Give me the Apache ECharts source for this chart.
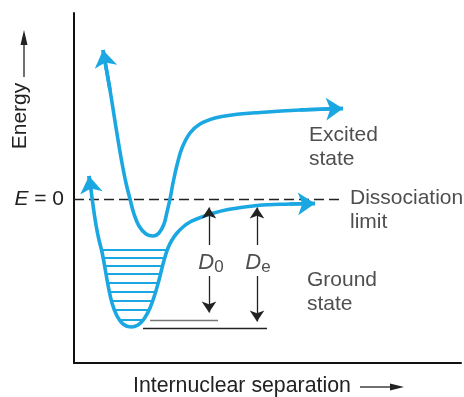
<!DOCTYPE html>
<html>
<head>
<meta charset="utf-8">
<script src="https://cdn.jsdelivr.net/npm/echarts@6/dist/echarts.min.js"></script>
<style>
html, body { margin: 0; padding: 0; background: #fff; }
#main { width: 464px; height: 397px; }
</style>
</head>
<body>
<div id="main"></div>
<script>
// x = internuclear separation, y = energy (E = 0 at the dissociation limit), arbitrary units
var groundX = [15, 17, 19, 22, 25, 28, 31, 34, 38, 43, 49, 57, 64, 70, 76, 81, 85, 88, 91, 94, 98, 103, 109, 116, 124, 135, 154, 183, 216, 241];
var groundY = [23, 9, -6, -26, -41, -53, -69, -86, -104, -117, -125, -128, -126, -120, -109, -95, -81, -69, -58, -49, -41, -34, -28, -23, -19.5, -15.5, -10.5, -6.5, -5, -4.5];

var excitedX = [29, 36, 40, 44, 48, 52, 56, 60, 65, 72, 79, 85, 90, 93, 96, 99, 103, 108, 116, 126, 141, 158, 186, 226, 269];
var excitedY = [149, 109, 84, 59, 36, 16, 0, -15, -27, -35, -37, -34, -25, -13, 0, 16, 34, 51, 66, 75, 81, 84, 86.5, 89, 90.5];

// vibrational levels of the ground state
var levelE = [-50.3, -58.3, -66.7, -75, -83.7, -92.7, -101.7, -111, -121];
var levelLeft = [27.3, 29, 30.6, 32, 33.6, 35.5, 37.5, 40.7, 46];
var levelRight = [93, 91, 89, 86.6, 84.3, 81.7, 78.6, 75, 69.5];

var limitEnd = 269;            // end of the dashed E = 0 line

// D0 and De
var barX = [135, 183];
var barTop = [-8.5, -8.5];
var barBottom = [-113.5, -122.5];
var barGapTop = -46;
var barGapBottom = -77;
var baseE = [-121, -129];
var baseLeft = [76, 69];
var baseRight = [144, 193];
var baseColor = ['#777', '#222'];

// annotations
var noteText = ['Excited\nstate', 'Ground\nstate', 'Dissociation\nlimit', '{i|D}{s|0}', '{i|D}{s|e}'];
var noteX = [235, 233, 276, 137, 184];
var noteY = [52, -93.5, -11.5, -64, -64];
var notePos = ['right', 'right', 'right', 'inside', 'inside'];

var FONT = '"Liberation Sans", Arial, sans-serif';
var CYAN = '#1aa7e2';
var INK = '#222';

function pairs(xs, ys) {
    return xs.map(function (x, i) { return [x, ys[i]]; });
}
function heads(pts) {
    var n = pts.length;
    return [{ coords: [pts[1], pts[0]] }, { coords: [pts[n - 2], pts[n - 1]] }];
}

var groundPts = pairs(groundX, groundY);
var excitedPts = pairs(excitedX, excitedY);

var barSegs = [];
barX.forEach(function (x, i) {
    barSegs.push({ coords: [[x, barGapTop], [x, barTop[i]]] });
    barSegs.push({ coords: [[x, barGapBottom], [x, barBottom[i]]] });
});

var rich = {
    i: { fontStyle: 'italic', fontSize: 22, fontFamily: FONT, color: INK, lineHeight: 26 },
    s: { fontSize: 17, fontFamily: FONT, color: INK, lineHeight: 17, verticalAlign: 'bottom' }
};

var myChart = echarts.init(document.getElementById('main'));

var option = {
    animation: false,
    backgroundColor: '#fff',
    grid: { left: 74, right: 3, top: 13, bottom: 34, outerBoundsMode: 'none' },
    xAxis: {
        type: 'value', min: 0, max: 387,
        axisLine: { show: true, onZero: false, lineStyle: { color: '#111', width: 2 } },
        axisTick: { show: false },
        axisLabel: { show: false },
        splitLine: { show: false }
    },
    yAxis: {
        type: 'value', min: -164, max: 186,
        axisLine: { show: true, onZero: false, lineStyle: { color: '#111', width: 2 } },
        axisTick: { show: false },
        axisLabel: {
            show: true,
            customValues: [0],
            margin: 10,
            fontSize: 21,
            fontFamily: FONT,
            color: INK,
            formatter: function () { return '{i|E} = 0'; },
            rich: { i: { fontStyle: 'italic', fontSize: 21, fontFamily: FONT, color: INK } }
        },
        splitLine: { show: false }
    },
    graphic: [
        { type: 'text', x: 20, y: 116, rotation: Math.PI / 2,
          style: { text: 'Energy', fontSize: 21, fontFamily: FONT, fill: INK, align: 'center', verticalAlign: 'middle' } },
        { type: 'line', shape: { x1: 24, y1: 77, x2: 24, y2: 42 }, style: { stroke: INK, lineWidth: 1.3 } },
        { type: 'polygon', shape: { points: [[24, 30], [20.5, 45], [27.5, 45]] }, style: { fill: INK } },
        { type: 'text', x: 133, y: 386,
          style: { text: 'Internuclear separation', fontSize: 21.3, fontFamily: FONT, fill: INK, align: 'left', verticalAlign: 'middle' } },
        { type: 'line', shape: { x1: 360, y1: 387, x2: 392, y2: 387 }, style: { stroke: INK, lineWidth: 1.3 } },
        { type: 'polygon', shape: { points: [[404, 387], [390, 383.5], [390, 390.5]] }, style: { fill: INK } }
    ],
    series: [
        {
            // dissociation limit
            type: 'lines', coordinateSystem: 'cartesian2d', z: 1, silent: true,
            lineStyle: { color: INK, width: 1.4, type: [10, 5], opacity: 1 },
            data: [{ coords: [[0, 0], [limitEnd, 0]] }]
        },
        {
            // vibrational levels
            type: 'lines', coordinateSystem: 'cartesian2d', z: 2, silent: true,
            lineStyle: { color: CYAN, width: 2, opacity: 1 },
            data: levelE.map(function (e, i) { return { coords: [[levelLeft[i], e], [levelRight[i], e]] }; })
        },
        {
            type: 'line', name: 'Ground state', z: 3, silent: true,
            data: groundPts, smooth: 0.4, showSymbol: false,
            lineStyle: { color: CYAN, width: 3.6 }
        },
        {
            type: 'line', name: 'Excited state', z: 3, silent: true,
            data: excitedPts, smooth: 0.4, showSymbol: false,
            lineStyle: { color: CYAN, width: 3.6 }
        },
        {
            // arrowheads at the ends of both curves
            type: 'lines', coordinateSystem: 'cartesian2d', z: 4, silent: true,
            symbol: ['none', 'arrow'], symbolSize: [11, 17],
            lineStyle: { color: CYAN, width: 3.6, opacity: 1 },
            data: heads(groundPts).concat(heads(excitedPts))
        },
        {
            // base lines for D0 and De
            type: 'lines', coordinateSystem: 'cartesian2d', z: 2, silent: true,
            lineStyle: { color: INK, width: 1.4, opacity: 1 },
            data: baseE.map(function (e, i) {
                return { coords: [[baseLeft[i], e], [baseRight[i], e]], lineStyle: { color: baseColor[i] } };
            })
        },
        {
            // D0 and De arrows
            type: 'lines', coordinateSystem: 'cartesian2d', z: 5, silent: true,
            symbol: ['none', 'arrow'], symbolSize: [5, 11],
            lineStyle: { color: INK, width: 1.3, opacity: 1 },
            data: barSegs
        },
        {
            type: 'scatter', z: 6, silent: true, symbolSize: 0,
            label: { show: true, distance: 0, fontSize: 21, lineHeight: 24, fontFamily: FONT, color: INK, align: 'left', rich: rich },
            data: noteText.map(function (t, i) {
                return {
                    value: [noteX[i], noteY[i]],
                    label: { position: notePos[i], align: notePos[i] === 'inside' ? 'center' : 'left', formatter: t }
                };
            })
        }
    ]
};

myChart.setOption(option);
</script>
</body>
</html>
